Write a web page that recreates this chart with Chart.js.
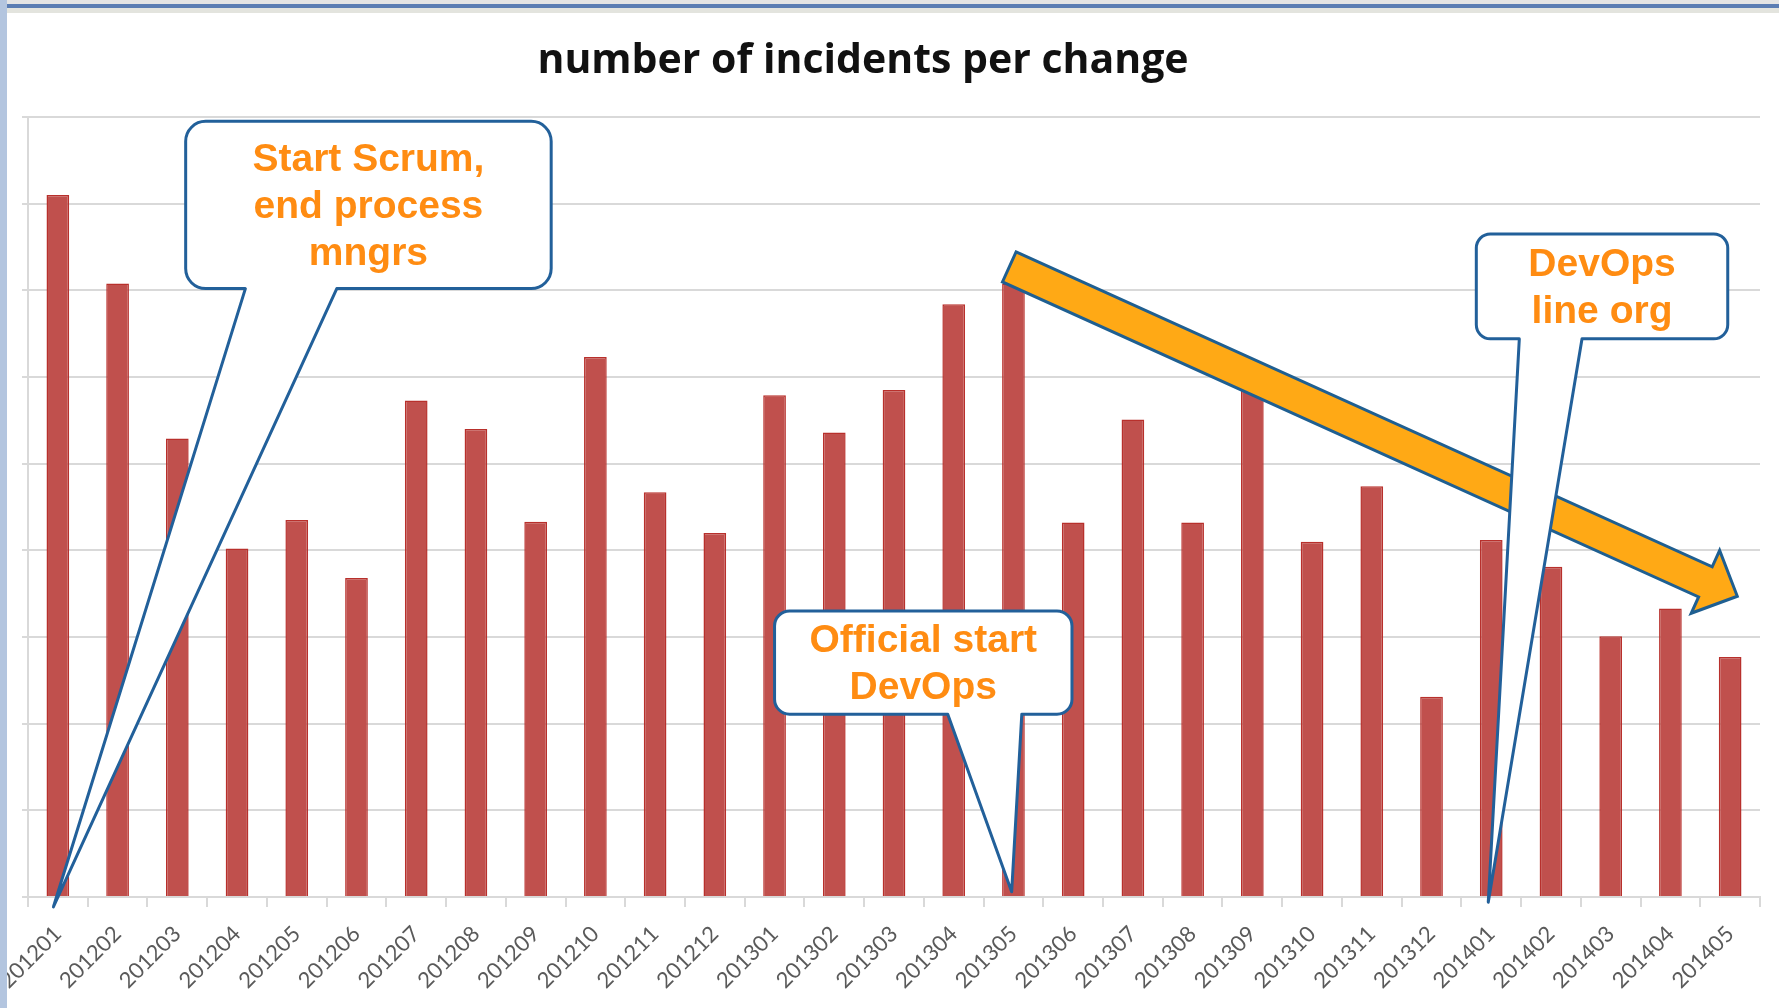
<!DOCTYPE html>
<html>
<head>
<meta charset="utf-8">
<title>number of incidents per change</title>
<script src="https://cdn.jsdelivr.net/npm/chart.js@4.4.1/dist/chart.umd.min.js"></script>
<style>
  html, body { margin: 0; padding: 0; background: #fff; }
  #wrap { position: relative; width: 1779px; height: 1008px; overflow: hidden; }
  #frameTop { position: absolute; left: 0; top: 0; width: 1779px; height: 13px;
    background: linear-gradient(#e4e4e4 0 4px, #5b7db3 4px 8px, #e3e4de 8px 13px); }
  #frameLeft { position: absolute; left: 0; top: 0; width: 7px; height: 1008px; background: #b3c5df; }
</style>
</head>
<body>
<div id="wrap">
  <canvas id="grafik" width="1779" height="1008"></canvas>
  <div id="frameTop"></div>
  <div id="frameLeft"></div>
</div>
<script>
// months on the x axis
const months = [
  "201201", "201202", "201203", "201204", "201205", "201206",
  "201207", "201208", "201209", "201210", "201211", "201212",
  "201301", "201302", "201303", "201304", "201305", "201306",
  "201307", "201308", "201309", "201310", "201311", "201312",
  "201401", "201402", "201403", "201404", "201405"
];

// incidents per change (in gridline units)
const incidentsPerChange = [
  8.10, 7.08, 5.29, 4.02, 4.35, 3.68,
  5.73, 5.40, 4.33, 6.23, 4.67, 4.20,
  5.79, 5.36, 5.85, 6.84, 7.08, 4.32,
  5.51, 4.32, 5.85, 4.10, 4.74, 2.31,
  4.12, 3.81, 3.01, 3.33, 2.77
];

const chartTitle = "number of incidents per change";

// callout texts
const noteTexts = [
  ["Start Scrum,", "end process", "mngrs"],
  ["Official start", "DevOps"],
  ["DevOps", "line org"]
];

// where the callouts sit, in axis units (category index, value)
const notePlaces = [
  { box: [2.14, 8.95, 8.26, 7.02], base: [3.14, 4.67], tip: [-0.075, -0.115], radius: 20 },
  { box: [12.0, 3.30, 16.98, 2.11], base: [14.9, 16.14], tip: [15.97, 0.06], radius: 15 },
  { box: [23.75, 7.65, 27.96, 6.44], base: [24.47, 25.52], tip: [23.95, -0.06], radius: 14 }
];

// the big trend arrow, from / to in axis units
const trendArrow = { from: [15.93, 7.27], to: [28.12, 3.47], shaft: 33, headWidth: 69, headLength: 35 };

function gambarCallout(ctx, x, y, place, lines) {
  const x1 = x.getPixelForValue(place.box[0]);
  const y1 = y.getPixelForValue(place.box[1]);
  const x2 = x.getPixelForValue(place.box[2]);
  const y2 = y.getPixelForValue(place.box[3]);
  const ba = x.getPixelForValue(place.base[0]);
  const bb = x.getPixelForValue(place.base[1]);
  const tx = x.getPixelForValue(place.tip[0]);
  const ty = y.getPixelForValue(place.tip[1]);
  const r = place.radius;

  ctx.beginPath();
  ctx.moveTo(x1 + r, y1);
  ctx.lineTo(x2 - r, y1);
  ctx.arcTo(x2, y1, x2, y1 + r, r);
  ctx.lineTo(x2, y2 - r);
  ctx.arcTo(x2, y2, x2 - r, y2, r);
  ctx.lineTo(bb, y2);
  ctx.lineTo(tx, ty);
  ctx.lineTo(ba, y2);
  ctx.lineTo(x1 + r, y2);
  ctx.arcTo(x1, y2, x1, y2 - r, r);
  ctx.lineTo(x1, y1 + r);
  ctx.arcTo(x1, y1, x1 + r, y1, r);
  ctx.closePath();
  ctx.fillStyle = "#ffffff";
  ctx.fill();
  ctx.lineWidth = 3;
  ctx.lineJoin = "round";
  ctx.strokeStyle = "#22609a";
  ctx.stroke();

  const lh = 47;
  const cx = (x1 + x2) / 2;
  const cy = (y1 + y2) / 2;
  ctx.fillStyle = "#ff8c12";
  ctx.font = "bold 39px 'Liberation Sans', Arial, sans-serif";
  ctx.textAlign = "center";
  ctx.textBaseline = "middle";
  lines.forEach((t, i) => {
    ctx.fillText(t, cx, cy + (i - (lines.length - 1) / 2) * lh + 2);
  });
}

function gambarPanah(ctx, x, y, a) {
  const x0 = x.getPixelForValue(a.from[0]);
  const y0 = y.getPixelForValue(a.from[1]);
  const x1 = x.getPixelForValue(a.to[0]);
  const y1 = y.getPixelForValue(a.to[1]);
  const len = Math.hypot(x1 - x0, y1 - y0);
  const ang = Math.atan2(y1 - y0, x1 - x0);
  const w = a.shaft / 2, hw = a.headWidth / 2, hl = a.headLength;

  ctx.save();
  ctx.translate(x0, y0);
  ctx.rotate(ang);
  ctx.beginPath();
  ctx.moveTo(0, -w);
  ctx.lineTo(len - hl, -w);
  ctx.lineTo(len - hl, -hw);
  ctx.lineTo(len, 0);
  ctx.lineTo(len - hl, hw);
  ctx.lineTo(len - hl, w);
  ctx.lineTo(0, w);
  ctx.closePath();
  ctx.fillStyle = "#ffa915";
  ctx.fill();
  ctx.lineWidth = 3;
  ctx.lineJoin = "miter";
  ctx.strokeStyle = "#1f5f91";
  ctx.stroke();
  ctx.restore();
}

const catatanPlugin = {
  id: "catatan",
  afterDatasetsDraw(chart) {
    const ctx = chart.ctx;
    const x = chart.scales.x;
    const y = chart.scales.y;
    ctx.save();
    gambarPanah(ctx, x, y, trendArrow);
    notePlaces.forEach((p, i) => gambarCallout(ctx, x, y, p, noteTexts[i]));
    ctx.restore();
  },
  afterDraw(chart) {
    // title, sitting a little left of the plot centre like in the original
    const ctx = chart.ctx;
    const area = chart.chartArea;
    ctx.save();
    ctx.fillStyle = "#111111";
    ctx.font = "bold 41px 'Open Sans', sans-serif";
    ctx.textAlign = "center";
    ctx.textBaseline = "alphabetic";
    ctx.fillText(chartTitle, (area.left + area.right) / 2 - 31, 73);
    ctx.restore();
  }
};

const gridColor = "#d9d9d9";

new Chart(document.getElementById("grafik").getContext("2d"), {
  type: "bar",
  data: {
    labels: months,
    datasets: [{
      label: chartTitle,
      data: incidentsPerChange,
      backgroundColor: "#c0504d",
      borderColor: "#b8302c",
      borderWidth: 1.5,
      categoryPercentage: 1.0,
      barPercentage: 0.38
    }]
  },
  options: {
    responsive: false,
    animation: false,
    layout: { padding: { left: 22, right: 19, top: 117, bottom: 4 } },
    plugins: {
      legend: { display: false },
      tooltip: { enabled: false },
      title: { display: false }
    },
    scales: {
      x: {
        offset: true,
        grid: { display: true, drawOnChartArea: false, drawTicks: true, tickLength: 10, color: gridColor, lineWidth: 2, offset: true },
        border: { display: true, color: gridColor, width: 2 },
        ticks: {
          autoSkip: false,
          minRotation: 45,
          maxRotation: 45,
          padding: 14,
          color: "#5a5a5a",
          font: { family: "Lato", size: 22 }
        },
        afterFit(scale) {
          scale.paddingLeft = 0;
          scale.paddingRight = 0;
          scale.height = 107;
        }
      },
      y: {
        min: 0,
        max: 9,
        ticks: { display: false, stepSize: 1 },
        grid: { color: gridColor, lineWidth: 2, drawTicks: true, tickLength: 6 },
        border: { display: true, color: gridColor, width: 2 }
      }
    }
  },
  plugins: [catatanPlugin]
});
</script>
</body>
</html>
